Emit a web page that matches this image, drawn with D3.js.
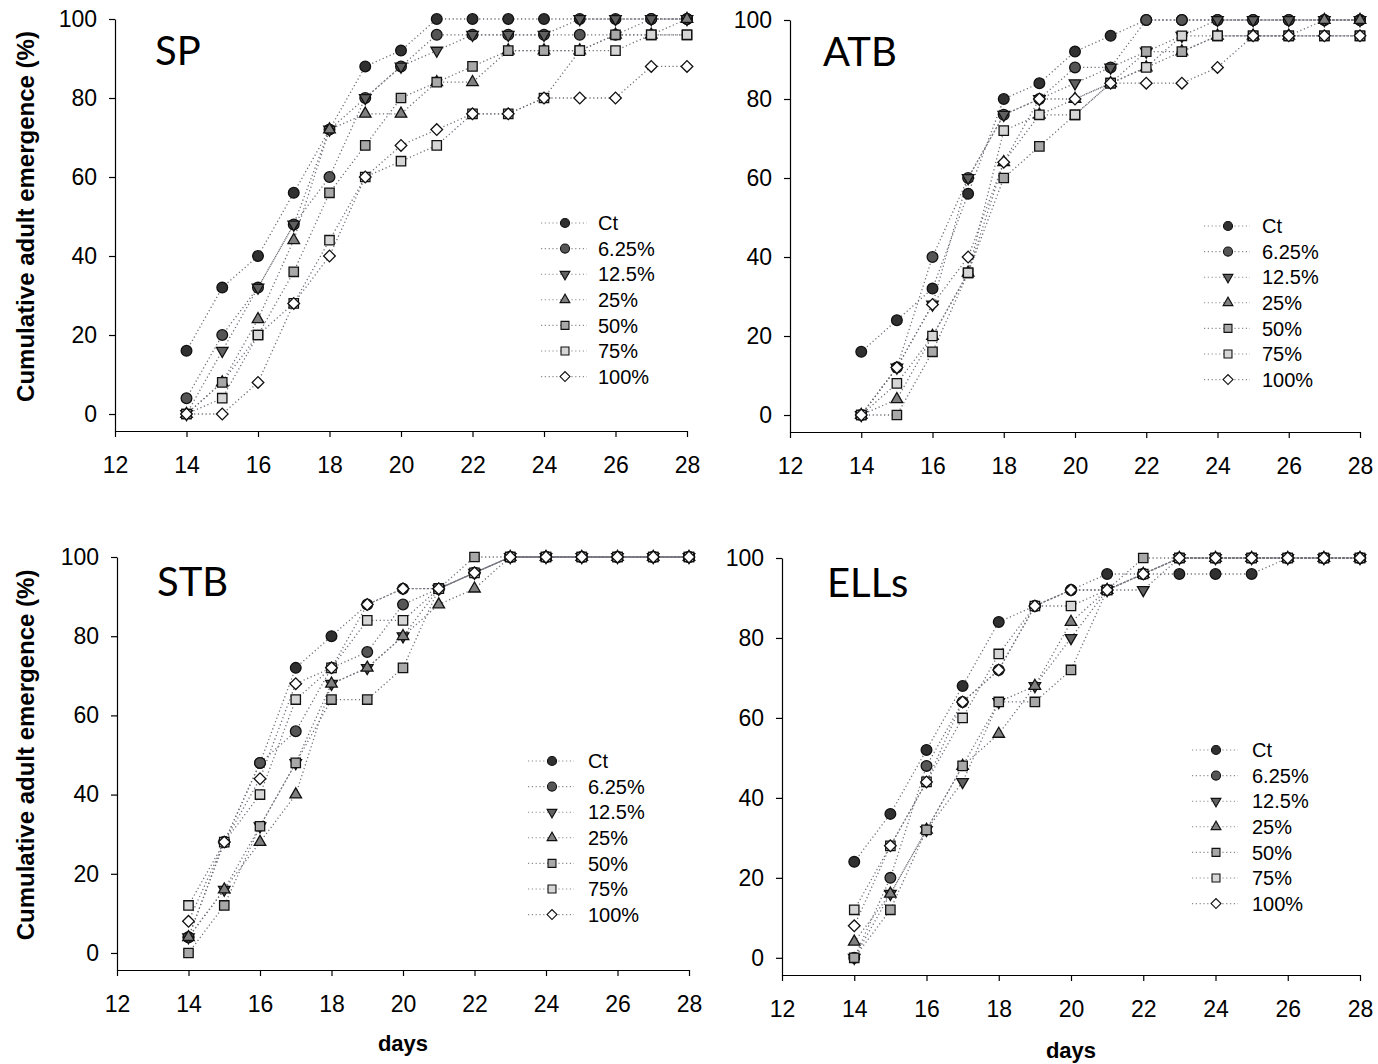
<!DOCTYPE html>
<html>
<head>
<meta charset="utf-8">
<script src="https://cdn.jsdelivr.net/npm/d3@7"></script>
<style>
  body { margin: 0; background: #fff; }
  svg { display: block; }
</style>
</head>
<body>
<svg id="chart" width="1378" height="1064"></svg>
<script>
// x categories (days) and tick labels
const days = [14, 15, 16, 17, 18, 19, 20, 21, 22, 23, 24, 25, 26, 27, 28];
const xTicks = [12, 14, 16, 18, 20, 22, 24, 26, 28];
const yTicks = [0, 20, 40, 60, 80, 100];
const seriesNames = ["Ct", "6.25%", "12.5%", "25%", "50%", "75%", "100%"];
const panelNames = ["SP", "ATB", "STB", "ELLs"];

// cumulative emergence (%) per series, one row per series in seriesNames order
const spValues = [
  [16, 32, 40, 56, 72, 88, 92, 100, 100, 100, 100, 100, 100, 100, 100],
  [4, 20, 32, 48, 60, 80, 88, 96, 96, 96, 96, 96, 96, 100, 100],
  [0, 16, 32, 48, 72, 80, 88, 92, 96, 96, 96, 100, 100, 100, 100],
  [0, 8, 24, 44, 72, 76, 76, 84, 84, 92, 92, 92, 96, 96, 100],
  [0, 8, 20, 36, 56, 68, 80, 84, 88, 92, 92, 92, 96, 96, 96],
  [0, 4, 20, 28, 44, 60, 64, 68, 76, 76, 80, 92, 92, 96, 96],
  [0, 0, 8, 28, 40, 60, 68, 72, 76, 76, 80, 80, 80, 88, 88]
];
const atbValues = [
  [16, 24, 32, 56, 80, 84, 92, 96, 100, 100, 100, 100, 100, 100, 100],
  [0, 12, 40, 60, 76, 80, 88, 88, 100, 100, 100, 100, 100, 100, 100],
  [0, 12, 28, 60, 76, 80, 84, 88, 92, 96, 100, 100, 100, 100, 100],
  [0, 4, 20, 36, 64, 76, 80, 84, 88, 92, 96, 96, 96, 100, 100],
  [0, 0, 16, 36, 60, 68, 76, 84, 92, 92, 96, 96, 96, 96, 96],
  [0, 8, 20, 36, 72, 76, 76, 84, 88, 96, 96, 96, 96, 96, 96],
  [0, 12, 28, 40, 64, 80, 80, 84, 84, 84, 88, 96, 96, 96, 96]
];
const stbValues = [
  [4, 28, 48, 72, 80, 88, 92, 92, 96, 100, 100, 100, 100, 100, 100],
  [4, 28, 48, 56, 72, 76, 88, 92, 96, 100, 100, 100, 100, 100, 100],
  [4, 16, 32, 48, 68, 72, 80, 92, 96, 100, 100, 100, 100, 100, 100],
  [4, 16, 28, 40, 68, 72, 80, 88, 92, 100, 100, 100, 100, 100, 100],
  [0, 12, 32, 48, 64, 64, 72, 92, 100, 100, 100, 100, 100, 100, 100],
  [12, 28, 40, 64, 72, 84, 84, 92, 96, 100, 100, 100, 100, 100, 100],
  [8, 28, 44, 68, 72, 88, 92, 92, 96, 100, 100, 100, 100, 100, 100]
];
const ellsValues = [
  [24, 36, 52, 68, 84, 88, 92, 96, 96, 96, 96, 96, 100, 100, 100],
  [0, 20, 48, 64, 72, 88, 92, 92, 96, 100, 100, 100, 100, 100, 100],
  [0, 16, 32, 44, 64, 68, 80, 92, 92, 100, 100, 100, 100, 100, 100],
  [4, 16, 32, 48, 56, 68, 84, 92, 96, 100, 100, 100, 100, 100, 100],
  [0, 12, 32, 48, 64, 64, 72, 92, 100, 100, 100, 100, 100, 100, 100],
  [12, 28, 44, 60, 76, 88, 88, 92, 96, 100, 100, 100, 100, 100, 100],
  [8, 28, 44, 64, 72, 88, 92, 92, 96, 100, 100, 100, 100, 100, 100]
];

// marker look for each series
const styles = [
  { shape: "circle", fill: "#303030" },
  { shape: "circle", fill: "#555555" },
  { shape: "down", fill: "#606060" },
  { shape: "up", fill: "#808080" },
  { shape: "square", fill: "#a8a8a8" },
  { shape: "square", fill: "#d6d6d6" },
  { shape: "diamond", fill: "#ffffff" }
];

// panel placement in the page
const layout = [
  { values: spValues, left: 115, right: 687, top: 19, bottom: 431, titleX: 155, titleY: 65, legX: 565, legY: 223, legText: 598, yLab: true, xLab: false },
  { values: atbValues, left: 790, right: 1360, top: 20, bottom: 432, titleX: 823, titleY: 66, legX: 1228, legY: 226, legText: 1262, yLab: false, xLab: false },
  { values: stbValues, left: 117, right: 689, top: 557, bottom: 970, titleX: 157, titleY: 596, legX: 552, legY: 761, legText: 588, yLab: true, xLab: true, xLabY: 1051 },
  { values: ellsValues, left: 782, right: 1360, top: 558, bottom: 975, titleX: 827, titleY: 597, legX: 1216, legY: 750, legText: 1252, yLab: false, xLab: true, xLabY: 1058 }
];

const svg = d3.select("#chart");
const font = "'Liberation Sans', Arial, sans-serif";

// symbol path for a shape, scale k (1 = plot marker)
function symbolPath(shape, k) {
  if (shape === "circle") return d3.symbol(d3.symbolCircle, 90 * k)();
  if (shape === "square") return d3.symbol(d3.symbolSquare, 88 * k)();
  if (shape === "diamond") return d3.symbol(d3.symbolSquare, 68 * k)();
  return d3.symbol(d3.symbolTriangle, 58 * k)();
}
function symbolRotate(shape) {
  if (shape === "diamond") return 45;
  if (shape === "down") return 180;
  return 0;
}

layout.forEach(function (p, pi) {
  const g = svg.append("g");

  const x = d3.scaleLinear().domain([12, 28]).range([p.left, p.right]);
  const y = d3.scaleLinear().domain([-4.3, 100]).range([p.bottom, p.top]);

  // axes
  const xAxis = g.append("g")
    .attr("transform", `translate(0,${p.bottom})`)
    .call(d3.axisBottom(x).tickValues(xTicks).tickSize(6).tickPadding(20).tickSizeOuter(0));
  const yAxis = g.append("g")
    .attr("transform", `translate(${p.left},0)`)
    .call(d3.axisLeft(y).tickValues(yTicks).tickSize(6).tickPadding(12).tickSizeOuter(0));
  [xAxis, yAxis].forEach(function (a) {
    a.select(".domain").attr("stroke", "#000").attr("stroke-width", 1.2);
    a.selectAll(".tick line").attr("stroke", "#000").attr("stroke-width", 1.2);
    a.selectAll("text")
      .attr("fill", "#000")
      .style("font-family", font)
      .style("font-size", "23px");
  });

  // dotted connecting lines
  const line = d3.line()
    .x((d, i) => x(days[i]))
    .y(d => y(d));
  p.values.forEach(function (vals) {
    g.append("path")
      .attr("d", line(vals))
      .attr("fill", "none")
      .attr("stroke", "#6e6e78")
      .attr("stroke-width", 1.3)
      .attr("stroke-dasharray", "1.2,2.6");
  });

  // markers, later series on top
  p.values.forEach(function (vals, si) {
    const st = styles[si];
    g.append("g").selectAll("path")
      .data(vals)
      .join("path")
      .attr("d", symbolPath(st.shape, 1))
      .attr("transform", (d, i) => `translate(${x(days[i])},${y(d)}) rotate(${symbolRotate(st.shape)})`)
      .attr("fill", st.fill)
      .attr("stroke", "#111")
      .attr("stroke-width", 1.3);
  });

  // panel title
  g.append("text")
    .attr("x", p.titleX)
    .attr("y", p.titleY)
    .text(panelNames[pi])
    .style("font-family", "Lato, 'Open Sans', sans-serif")
    .style("font-size", "40px")
    .attr("fill", "#000");

  // legend
  const leg = g.append("g");
  seriesNames.forEach(function (name, si) {
    const ly = p.legY + si * 25.6;
    const st = styles[si];
    leg.append("line")
      .attr("x1", p.legX - 24).attr("x2", p.legX + 22)
      .attr("y1", ly).attr("y2", ly)
      .attr("stroke", "#8a8a8a")
      .attr("stroke-width", 1.1)
      .attr("stroke-dasharray", "1.2,2.6");
    leg.append("path")
      .attr("d", symbolPath(st.shape, 0.72))
      .attr("transform", `translate(${p.legX},${ly}) rotate(${symbolRotate(st.shape)})`)
      .attr("fill", st.fill)
      .attr("stroke", "#111")
      .attr("stroke-width", 1.1);
    leg.append("text")
      .attr("x", p.legText)
      .attr("y", ly)
      .attr("dy", "0.36em")
      .text(name)
      .style("font-family", font)
      .style("font-size", "20px")
      .attr("fill", "#000");
  });

  // axis labels
  if (p.yLab) {
    g.append("text")
      .attr("transform", `translate(34,${(y(100) + y(0)) / 2}) rotate(-90)`)
      .attr("text-anchor", "middle")
      .text("Cumulative adult emergence (%)")
      .style("font-family", font)
      .style("font-size", "24px")
      .style("font-weight", "bold")
      .attr("fill", "#000");
  }
  if (p.xLab) {
    g.append("text")
      .attr("x", (p.left + p.right) / 2)
      .attr("y", p.xLabY)
      .attr("text-anchor", "middle")
      .text("days")
      .style("font-family", font)
      .style("font-size", "22px")
      .style("font-weight", "bold")
      .attr("fill", "#000");
  }
});
</script>
</body>
</html>
